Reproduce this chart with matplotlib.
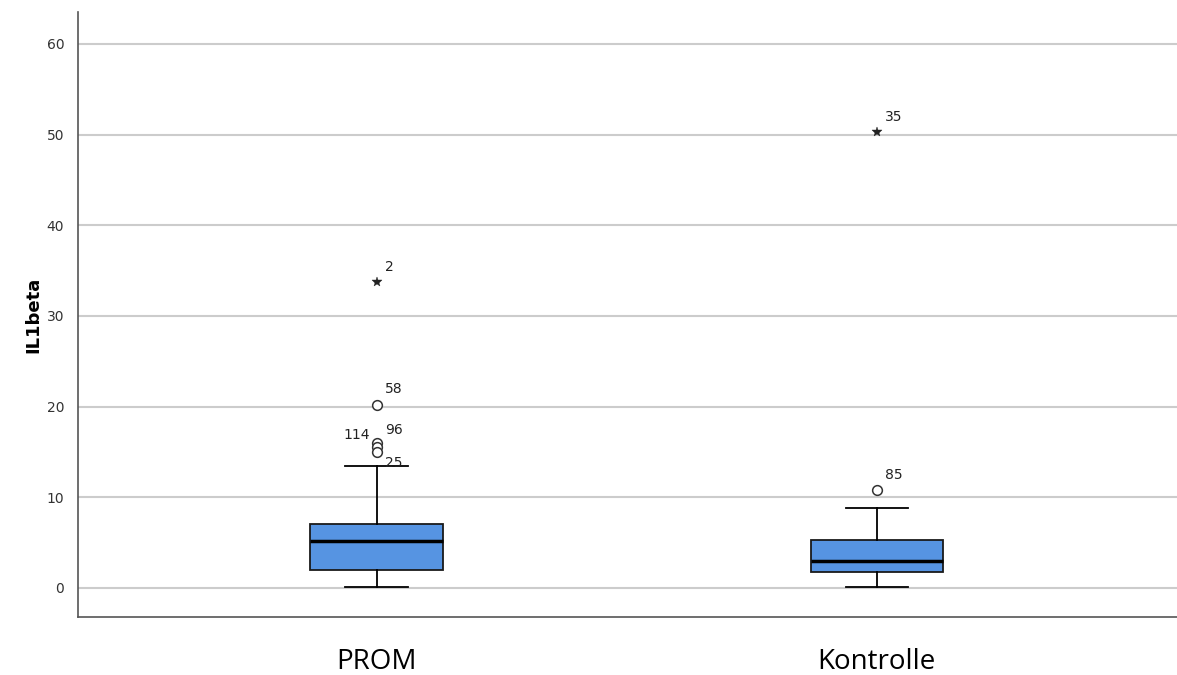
import matplotlib.pyplot as plt

groups = ["PROM", "Kontrolle"]
q1 = [1.98, 1.76]
med = [5.15, 2.98]
q3 = [7.06, 5.29]
wlo = [0.1, 0.1]
whi = [13.5, 8.8]

# outliers: (group index, value, case label, label side, marker)
out_group = [0, 0, 0, 0, 0, 1, 1]
out_value = [33.7, 20.2, 16.0, 15.5, 15.0, 50.3, 10.8]
out_label = ["2", "58", "96", "114", "25", "35", "85"]
out_side = ["r", "r", "r", "l", "r", "r", "r"]
out_kind = ["*", "o", "o", "o", "o", "*", "o"]

fig = plt.figure(figsize=(11.77, 6.75), dpi=100)
ax = fig.add_axes([0.0663, 0.086, 0.9337, 0.896])

stats = []
for i in range(len(groups)):
    stats.append(dict(med=med[i], q1=q1[i], q3=q3[i], whislo=wlo[i], whishi=whi[i], fliers=[]))

ax.bxp(stats, positions=[1, 2], widths=0.265, patch_artist=True, showfliers=False,
       boxprops=dict(facecolor="#5694e2", edgecolor="#1a1a1a", linewidth=1.3),
       medianprops=dict(color="black", linewidth=2.5),
       whiskerprops=dict(color="black", linewidth=1.3),
       capprops=dict(color="black", linewidth=1.3),
       capwidths=0.125)

for g, v, lab, side, kind in zip(out_group, out_value, out_label, out_side, out_kind):
    x = g + 1
    if kind == "*":
        ax.plot(x, v, marker="*", color="#222222", markersize=7.5, markeredgewidth=0.3,
                linestyle="none", zorder=4)
    else:
        ax.plot(x, v, marker="o", markerfacecolor="white", markeredgecolor="#333333",
                markersize=7, markeredgewidth=1.1, linestyle="none", zorder=4)
    if lab == "25":
        off = (6, -13)
    elif lab == "96":
        off = (6, 4)
    elif side == "l":
        off = (-24, 4)
    else:
        off = (6, 6)
    ax.annotate(lab, (x, v), xytext=off, textcoords="offset points", fontsize=10,
                color="#222222", ha="left", va="bottom")

ax.set_xlim(0.403, 2.6)
ax.set_ylim(-3.2, 63.5)
ax.set_yticks([0, 10, 20, 30, 40, 50, 60])
ax.set_xticks([1, 2])
ax.set_xticklabels(groups, fontsize=20, family="Open Sans")
ax.tick_params(axis="x", length=0, pad=22)
ax.tick_params(axis="y", length=0, labelsize=10, colors="#333333", pad=10)
ax.set_ylabel("IL1beta", fontsize=13, fontweight="bold", labelpad=3)
ax.yaxis.grid(True, color="#cccccc", linewidth=1.5)
ax.set_axisbelow(True)
for s in ["top", "right"]:
    ax.spines[s].set_visible(False)
for s in ["left", "bottom"]:
    ax.spines[s].set_color("#555555")
    ax.spines[s].set_linewidth(1.2)

fig.savefig("out.png", dpi=100)
